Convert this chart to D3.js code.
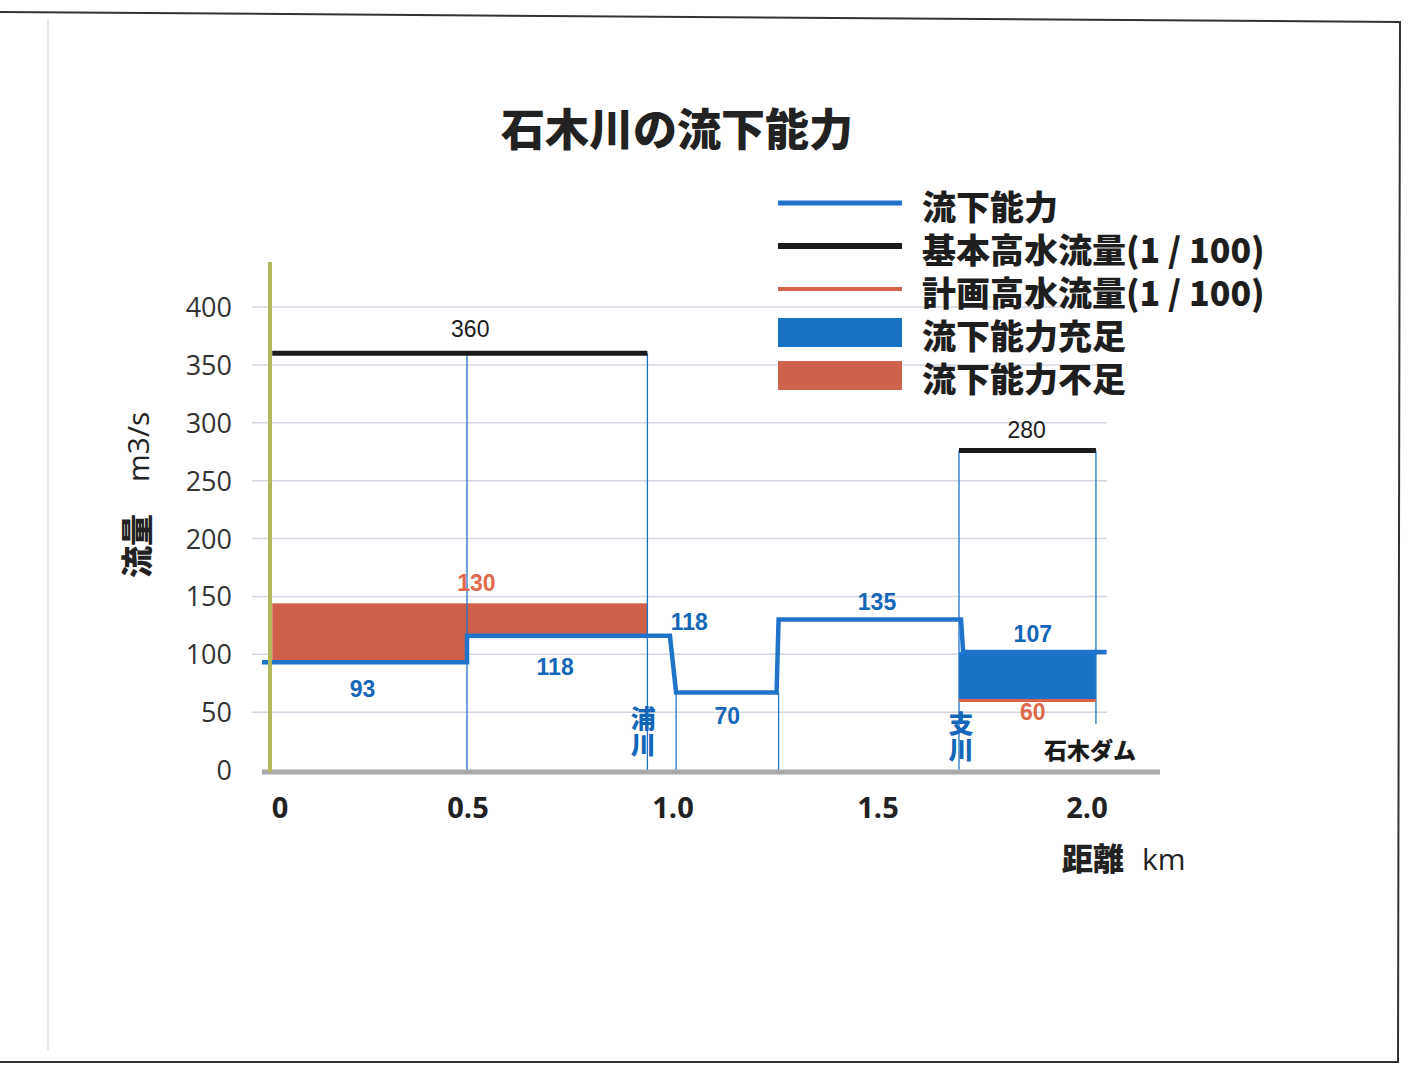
<!DOCTYPE html>
<html><head><meta charset="utf-8">
<script src="https://cdn.jsdelivr.net/npm/d3@7"></script>
<style>body{margin:0;background:#fff}svg{display:block}</style>
</head><body><svg id="c" width="1415" height="1067"></svg>
<script>
// ---------- data ----------
const title = "石木川の流下能力";
const yTicks = [0,50,100,150,200,250,300,350,400];
const xTicks = [0,0.5,1.0,1.5,2.0];
const xTickLabels = ["0","0.5","1.0","1.5","2.0"];
// 流下能力 (capacity) step line: [km, m3/s]
const capacity = [[0,93],[0.5,93],[0.5,116],[0.995,116],[1.01,67],[1.255,67],[1.26,130],[1.705,130],[1.71,102],[2.06,102]];
// 基本高水流量 segments: [start km, end km, value]
const basicFlow = [[0.025,0.94,360],[1.70,2.034,276]];
// 計画高水流量 thin line segments
const planFlow = [[1.70,2.034,60]];
// 流下能力不足 (shortage) blocks: [start, end, low, high]
const shortage = [[0.025,0.5,93,144],[0.5,0.94,116,144]];
// 流下能力充足 (sufficient) blocks
const sufficient = [[1.70,2.034,61,102]];
// section divider lines: [km, top value, bottom value]
const dividers = [[0.5,360,0],[0.94,360,0],[1.01,67,0],[1.26,67,0],[1.70,276,0],[2.034,276,40]];
// value labels: [km, value position, text, kind]
const valueLabels = [
  [0.508,374,"360","black"],[1.865,287,"280","black"],
  [0.523,155,"130","red"],[1.88,43,"60","red"],
  [0.245,63,"93","blue"],[0.715,82,"118","blue"],[1.042,121,"118","blue"],
  [1.135,40,"70","blue"],[1.5,138,"135","blue"],[1.88,111,"107","blue"]
];
const placeLabels = [[0.93,"浦川",true],[1.695,"支川",true],[2.0,"石木ダム",false]];
const legendItems = [
  ["流下能力","line","#1f74c9",5],
  ["基本高水流量(1 / 100)","line","#1b1b1b",6],
  ["計画高水流量(1 / 100)","line","#d8644c",4],
  ["流下能力充足","rect","#1a72c8",0],
  ["流下能力不足","rect","#d0604a",0]
];

// ---------- drawing ----------
const svg = d3.select("#c");
const x = d3.scaleLinear().domain([0,2]).range([262,1082]);
const y = d3.scaleLinear().domain([0,400]).range([770,307]);
const JP = "'Noto Sans CJK JP','Noto Sans CJK SC',sans-serif";
const BLUE = "#1f74c9", RED = "#d0604a", REDTXT = "#e0694c";

// page frame
svg.append("path").attr("d","M0,12 L1400,22 L1398,1062 L0,1062")
  .attr("fill","none").attr("stroke","#333").attr("stroke-width",2);
svg.append("line").attr("x1",48).attr("x2",48).attr("y1",20).attr("y2",1050)
  .attr("stroke","#e6e6e6").attr("stroke-width",2);

// title
svg.append("text").attr("x",677).attr("y",146).attr("text-anchor","middle")
  .attr("font-family",JP).attr("font-weight",900).attr("font-size",44)
  .attr("fill","#222").text(title);

// gridlines
svg.append("g").selectAll("line").data(yTicks.filter(d=>d>0)).join("line")
  .attr("x1",252).attr("x2",1107).attr("y1",d=>y(d)).attr("y2",d=>y(d))
  .attr("stroke","#d3d6e2").attr("stroke-width",1.5);

// y tick labels
svg.append("g").selectAll("text").data(yTicks).join("text")
  .attr("x",232).attr("y",d=>y(d)+10).attr("text-anchor","end")
  .attr("font-family","'Open Sans',sans-serif").attr("font-size",27)
  .attr("fill","#333").text(d=>d);

// shortage / sufficient blocks
svg.append("g").selectAll("rect").data(shortage).join("rect")
  .attr("x",d=>x(d[0])).attr("width",d=>x(d[1])-x(d[0]))
  .attr("y",d=>y(d[3])).attr("height",d=>y(d[2])-y(d[3])).attr("fill",RED);
svg.append("g").selectAll("rect").data(sufficient).join("rect")
  .attr("x",d=>x(d[0])).attr("width",d=>x(d[1])-x(d[0]))
  .attr("y",d=>y(d[3])).attr("height",d=>y(d[2])-y(d[3])).attr("fill","#1a72c8");

// dividers
svg.append("g").selectAll("line").data(dividers).join("line")
  .attr("x1",d=>x(d[0])).attr("x2",d=>x(d[0])).attr("y1",d=>y(d[1])).attr("y2",d=>y(d[2]))
  .attr("stroke",BLUE).attr("stroke-width",1.3);

// plan flow thin line
svg.append("g").selectAll("line").data(planFlow).join("line")
  .attr("x1",d=>x(d[0])).attr("x2",d=>x(d[1])).attr("y1",d=>y(d[2])).attr("y2",d=>y(d[2]))
  .attr("stroke","#d8644c").attr("stroke-width",3);

// basic flow
svg.append("g").selectAll("line").data(basicFlow).join("line")
  .attr("x1",d=>x(d[0])).attr("x2",d=>x(d[1])).attr("y1",d=>y(d[2])).attr("y2",d=>y(d[2]))
  .attr("stroke","#1b1b1b").attr("stroke-width",5);

// capacity line
svg.append("path").datum(capacity)
  .attr("d",d3.line().x(d=>x(d[0])).y(d=>y(d[1])))
  .attr("fill","none").attr("stroke",BLUE).attr("stroke-width",4.5);

// axes lines
svg.append("line").attr("x1",262).attr("x2",1160).attr("y1",772).attr("y2",772)
  .attr("stroke","#a9a9a9").attr("stroke-width",5);
svg.append("line").attr("x1",270).attr("x2",270).attr("y1",262).attr("y2",772)
  .attr("stroke","#b3b85c").attr("stroke-width",4);

// x tick labels
svg.append("g").selectAll("text").data(xTicks).join("text")
  .attr("x",(d,i)=>x(d)+(i===0?18:(i===4?5:1))).attr("y",818).attr("text-anchor","middle")
  .attr("font-family","'Open Sans',sans-serif").attr("font-weight",700).attr("font-size",29)
  .attr("fill","#222").text((d,i)=>xTickLabels[i]);

// axis titles
const xt = svg.append("text").attr("x",1062).attr("y",870).attr("fill","#222");
xt.append("tspan").attr("font-family",JP).attr("font-weight",900).attr("font-size",31).text("距離");
xt.append("tspan").attr("dx",18).attr("font-family","'Open Sans',sans-serif").attr("font-size",30).text("km");
const yt = svg.append("text").attr("transform","translate(149,578) rotate(-90)").attr("fill","#222");
yt.append("tspan").attr("font-family",JP).attr("font-weight",900).attr("font-size",32).text("流量");
yt.append("tspan").attr("dx",32).attr("font-family","'Open Sans',sans-serif").attr("font-size",30).text("m3/s");

// value labels
const colorOf = {black:"#1b1b1b",red:REDTXT,blue:"#1466b8"};
svg.append("g").selectAll("text").data(valueLabels).join("text")
  .attr("x",d=>x(d[0])).attr("y",d=>y(d[1])).attr("text-anchor","middle")
  .attr("font-family","'Liberation Sans',Arial,sans-serif")
  .attr("font-weight",d=>d[3]==="black"?400:700).attr("font-size",23)
  .attr("fill",d=>colorOf[d[3]]).text(d=>d[2]);

// place labels
placeLabels.forEach(p=>{
  if(p[2]){
    svg.append("text").attr("x",x(p[0])+(p[1]==="支川"?4:0)).attr("y",p[1]==="浦川"?706:711)
      .attr("style","writing-mode: vertical-rl; letter-spacing: 1px")
      .attr("font-family",JP).attr("font-weight",900).attr("font-size",25)
      .attr("fill","#1466b8").text(p[1]);
  } else {
    svg.append("text").attr("x",x(p[0])+8).attr("y",759).attr("text-anchor","middle")
      .attr("font-family",JP).attr("font-weight",900).attr("font-size",23)
      .attr("fill","#1b1b1b").text(p[1]);
  }
});

// legend
const lg = svg.append("g").attr("transform","translate(778,203)");
legendItems.forEach((it,i)=>{
  const yy = i*43;
  if(it[1]==="line"){
    lg.append("line").attr("x1",0).attr("x2",124).attr("y1",yy).attr("y2",yy)
      .attr("stroke",it[2]).attr("stroke-width",it[3]);
  } else {
    lg.append("rect").attr("x",0).attr("y",yy-14).attr("width",124).attr("height",29).attr("fill",it[2]);
  }
  lg.append("text").attr("x",144).attr("y",yy+17).attr("font-family",JP)
    .attr("font-weight",900).attr("font-size",34).attr("fill","#1e1e1e").text(it[0]);
});
</script></body></html>
